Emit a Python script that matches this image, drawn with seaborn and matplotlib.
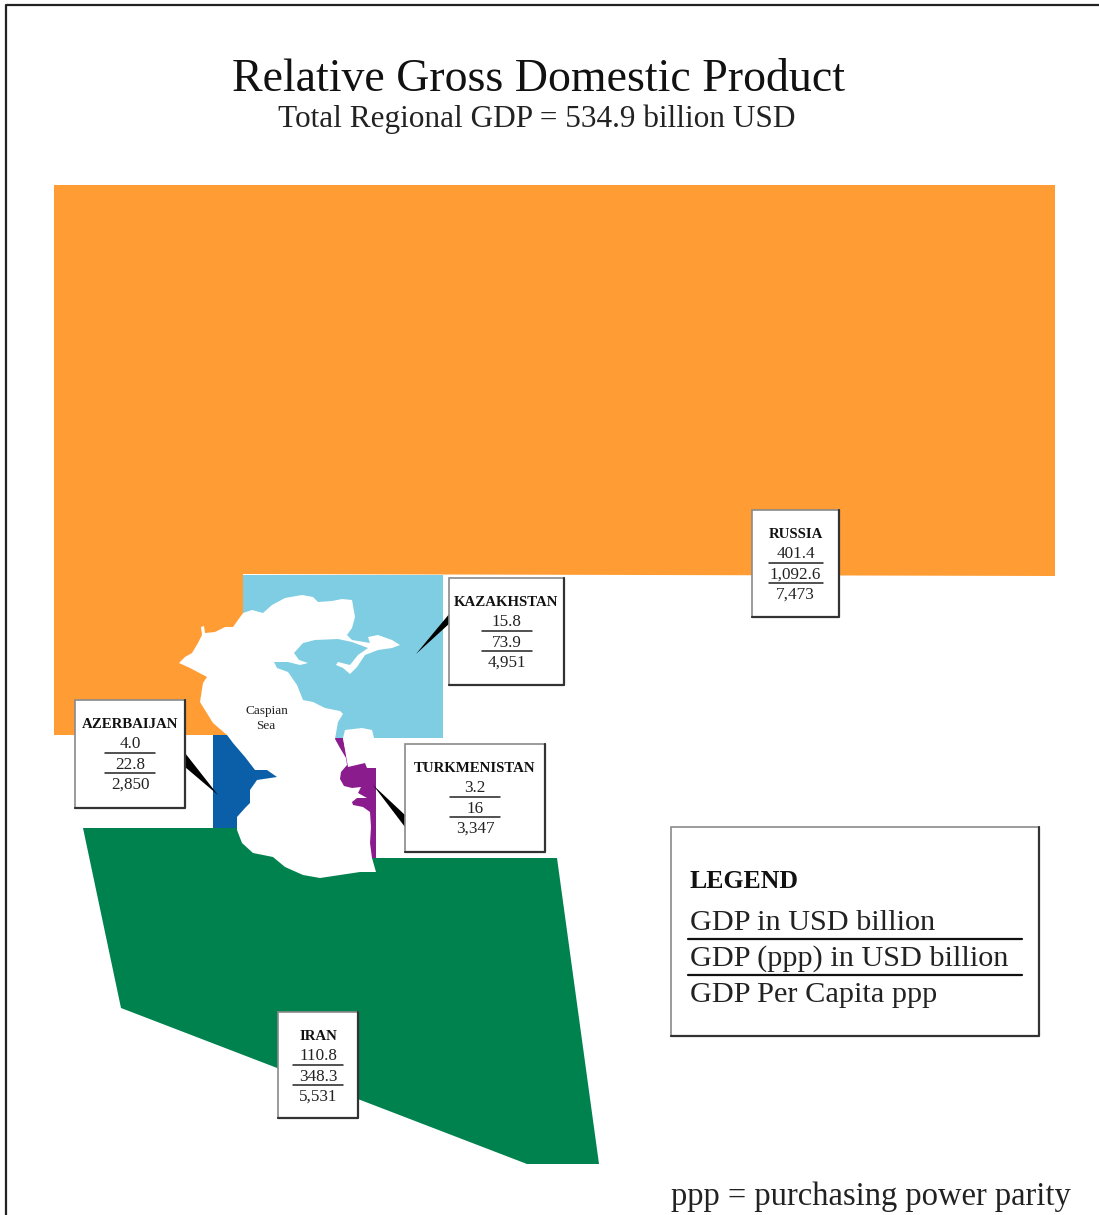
import matplotlib
matplotlib.use("Agg")
import matplotlib.pyplot as plt
import seaborn as sns
from matplotlib.patches import Rectangle

# Table values, one per country
countries = ["RUSSIA", "KAZAKHSTAN", "AZERBAIJAN", "TURKMENISTAN", "IRAN"]
gdp = ["401.4", "15.8", "4.0", "3.2", "110.8"]
gdp_ppp = ["1,092.6", "73.9", "22.8", "16", "348.3"]
gdp_per_capita = ["7,473", "4,951", "2,850", "3,347", "5,531"]
legend_rows = ["GDP in USD billion", "GDP (ppp) in USD billion", "GDP Per Capita ppp"]

# Cartogram shapes, in picture pixels
russia_x = [54, 1055, 1055, 243, 243, 54]
russia_y = [185, 185, 576, 574, 735, 735]
kazakhstan_x = [243, 443, 443, 243]
kazakhstan_y = [575, 575, 738, 738]
azerbaijan_x = [213, 280, 280, 213]
azerbaijan_y = [735, 735, 828, 828]
turkmenistan_x = [335, 343, 348, 365, 367, 376, 376, 357, 337]
turkmenistan_y = [738, 738, 763, 763, 768, 768, 858, 858, 803]
iran_x = [83, 300, 300, 557, 599, 527, 121]
iran_y = [828, 828, 858, 858, 1164, 1164, 1008]

# Caspian outline, clockwise from the west tip
sea_x = [179, 185, 192, 198, 202, 201, 204, 205, 215, 225, 233, 238, 243, 252, 263, 272, 285, 302, 313, 318,
         332, 342, 352, 355, 352, 347, 352, 370, 368, 378, 392, 400, 392, 378, 365, 357, 350, 343, 336, 338,
         350, 358, 368, 352, 338, 315, 303, 294, 299, 308, 300, 288, 274, 277, 288, 297, 303, 313, 325, 340,
         343, 338, 335, 340, 346, 347, 341, 340, 344, 352, 361, 358, 367, 357, 352, 353, 363, 370, 371, 370,
         372, 376, 360, 320, 303, 285, 273, 253, 242, 237, 237, 245, 250, 250, 257, 277, 267, 255, 245, 233,
         227, 213, 200, 203, 207, 190]
sea_y = [663, 657, 653, 643, 635, 627, 626, 633, 632, 627, 627, 620, 613, 610, 613, 605, 598, 595, 597, 602,
         601, 599, 600, 617, 628, 635, 640, 643, 637, 635, 640, 645, 648, 650, 655, 667, 674, 668, 665, 662,
         665, 655, 648, 642, 639, 640, 643, 653, 660, 663, 665, 662, 662, 668, 672, 685, 700, 702, 708, 711,
         714, 722, 739, 748, 758, 765, 772, 779, 786, 788, 787, 793, 798, 798, 802, 805, 807, 812, 827, 843,
         858, 872, 872, 878, 875, 867, 857, 853, 843, 830, 817, 808, 803, 790, 780, 777, 770, 770, 757, 743,
         735, 723, 702, 683, 677, 668]
bay_x = [343, 345, 362, 372, 375, 390, 397, 390, 375, 365, 348]
bay_y = [738, 730, 728, 730, 742, 750, 758, 767, 767, 763, 767]

sns.set_theme(style="white")
plt.rcParams["font.family"] = ["Liberation Serif", "DejaVu Serif"]

fig = plt.figure(figsize=(10.99, 12.15), dpi=100)
ax = fig.add_axes([0, 0, 1, 1])
ax.set_xlim(0, 1099)
ax.set_ylim(1215, 0)
ax.axis("off")

# frame only shows on top and left
ax.plot([6, 6, 1099], [1215, 5, 5], color="#222222", lw=1.6, zorder=1)

ax.fill(russia_x, russia_y, color="#FF9C33", lw=0, zorder=2)
ax.fill(kazakhstan_x, kazakhstan_y, color="#7FCDE2", lw=0, zorder=2)
ax.fill(azerbaijan_x, azerbaijan_y, color="#0B5FA8", lw=0, zorder=2)
ax.fill(turkmenistan_x, turkmenistan_y, color="#8B1C8E", lw=0, zorder=2)
ax.fill(iran_x, iran_y, color="#00824F", lw=0, zorder=2)

ax.fill(sea_x, sea_y, color="white", lw=0, zorder=3)
ax.fill(bay_x, bay_y, color="white", lw=0, zorder=3)
ax.text(267, 711, "Caspian", ha="center", va="center", fontsize=9.5, color="#222222", zorder=4)
ax.text(266, 726, "Sea", ha="center", va="center", fontsize=9.5, color="#222222", zorder=4)

# pointers from the boxes
ax.fill([416, 450, 450], [654, 613, 623], color="black", lw=0, zorder=4)
ax.fill([218, 185, 185], [795, 753, 767], color="black", lw=0, zorder=4)
ax.fill([373, 405, 405], [785, 815, 827], color="black", lw=0, zorder=4)


def box(x0, y0, x1, y1):
    ax.add_patch(Rectangle((x0, y0), x1 - x0, y1 - y0, fc="white", ec="#8a8a8a", lw=1.2, zorder=5))
    ax.plot([x0, x1, x1], [y1, y1, y0], color="#333333", lw=1.6, zorder=6)


# left, top, right, bottom of each box, same order as countries
box_x0 = [752, 449, 75, 405, 278]
box_y0 = [510, 578, 700, 744, 1012]
box_x1 = [839, 564, 185, 545, 358]
box_y1 = [617, 685, 808, 852, 1118]
rule_half = [27, 25, 25, 25, 25]

for i, name in enumerate(countries):
    box(box_x0[i], box_y0[i], box_x1[i], box_y1[i])
    cx = (box_x0[i] + box_x1[i]) / 2
    top = box_y0[i]
    ax.text(cx, top + 24, name, ha="center", va="center", fontsize=10.7, fontweight="bold", color="#111111", zorder=7)
    ax.text(cx, top + 44, gdp[i], ha="center", va="center", fontsize=12.3, color="#222222", zorder=7)
    ax.text(cx, top + 65, gdp_ppp[i], ha="center", va="center", fontsize=12.3, color="#222222", zorder=7)
    ax.text(cx, top + 85, gdp_per_capita[i], ha="center", va="center", fontsize=12.3, color="#222222", zorder=7)
    for dy in (53, 73):
        ax.plot([cx - rule_half[i], cx + rule_half[i]], [top + dy, top + dy], color="#222222", lw=1.1, zorder=7)

# legend box
box(671, 827, 1039, 1036)
ax.text(690, 881, "LEGEND", ha="left", va="center", fontsize=18.5, fontweight="bold", color="#111111", zorder=7)
for label, y in zip(legend_rows, [923, 959, 995]):
    ax.text(690, y, label, ha="left", va="center", fontsize=21.8, color="#222222", zorder=7)
for y in [939, 975]:
    ax.plot([688, 1022], [y, y], color="#111111", lw=1.6, zorder=7)

ax.text(538, 80, "Relative Gross Domestic Product", ha="center", va="center", fontsize=33, color="#111111")
ax.text(537, 119, "Total Regional GDP = 534.9 billion USD", ha="center", va="center", fontsize=22.5, color="#222222")
ax.text(671, 1197, "ppp = purchasing power parity", ha="left", va="center", fontsize=23.5, color="#222222")

fig.savefig("out.png", dpi=100)
